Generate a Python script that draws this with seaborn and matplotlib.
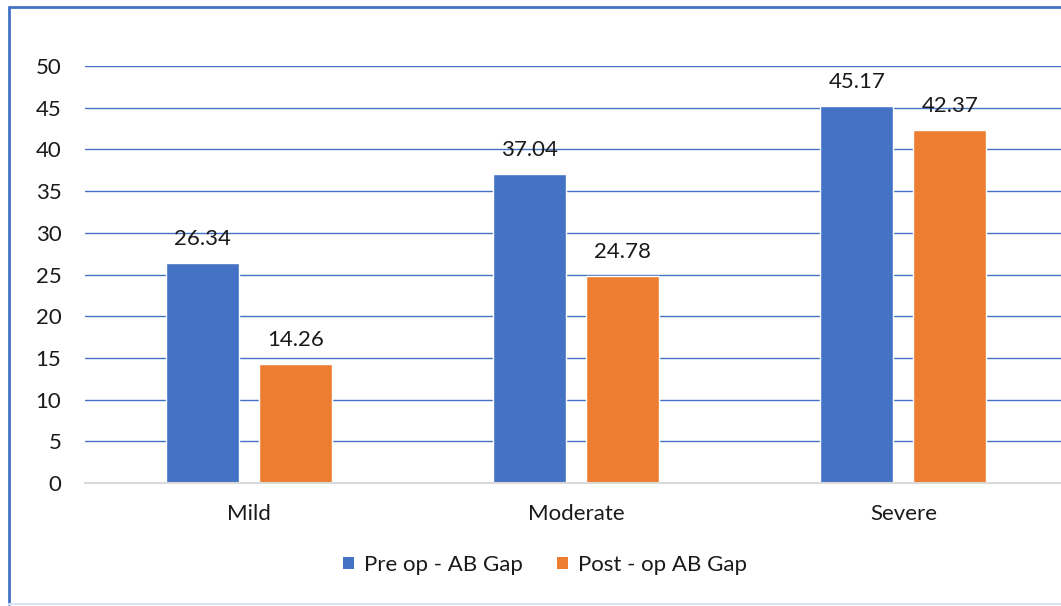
import matplotlib
matplotlib.use("Agg")
import matplotlib.pyplot as plt
from matplotlib.lines import Line2D
from matplotlib.patches import Patch
import pandas as pd
import seaborn as sns

categories = ["Mild", "Moderate", "Severe"]
series_names = ["Pre op - AB Gap", "Post - op AB Gap"]
pre_op = [26.34, 37.04, 45.17]
post_op = [14.26, 24.78, 42.37]
y_ticks = [0, 5, 10, 15, 20, 25, 30, 35, 40, 45, 50]

colors = ["#4472C4", "#ED7D31"]

df = pd.DataFrame({
    "category": categories * 2,
    "series": [series_names[0]] * 3 + [series_names[1]] * 3,
    "value": pre_op + post_op,
})

sns.set_style("white")
plt.rcParams["font.family"] = ["Lato", "DejaVu Sans"]
text_color = "#1a1a1a"
fs = 16

fig = plt.figure(figsize=(10.61, 6.06), dpi=100)
ax = fig.add_axes([85 / 1061, 1 - 483 / 606, 982 / 1061, (483 - 66) / 606])

sns.barplot(data=df, x="category", y="value", hue="series", order=categories,
            hue_order=series_names, palette=colors, width=0.568, gap=0.215,
            saturation=1, legend=False, ax=ax, zorder=3)

ax.set_xlim(-0.5, 2.5)
ax.set_ylim(0, 50)
ax.set_yticks(y_ticks)
ax.set_xlabel("")
ax.set_ylabel("")

ax.grid(axis="y", color="#4472C4", linewidth=1.0, zorder=0)
ax.set_axisbelow(True)
for side in ["top", "right", "left"]:
    ax.spines[side].set_visible(False)
ax.spines["bottom"].set_color("#d9d9d9")
ax.spines["bottom"].set_linewidth(1.5)
ax.spines["bottom"].set_zorder(4)

# category boundary ticks on the x axis
ax.set_xticks([-0.5, 0.5, 1.5, 2.5], minor=True)
ax.tick_params(axis="x", which="minor", length=4, width=1.5, color="#d9d9d9", direction="out")
ax.tick_params(axis="x", which="major", length=0, pad=15, labelsize=fs, labelcolor=text_color)
ax.tick_params(axis="y", length=0, pad=17, labelsize=fs, labelcolor=text_color)

for container in ax.containers:
    ax.bar_label(container, labels=[f"{v:.2f}" for v in container.datavalues],
                 padding=10, fontsize=fs, color=text_color)

handles = [Patch(facecolor=c, edgecolor="none") for c in colors]
fig.legend(handles, series_names, loc="center", bbox_to_anchor=(545 / 1061, 1 - 565 / 606),
           ncol=2, frameon=False, fontsize=fs, handlelength=0.5, handleheight=0.5,
           handletextpad=0.45, columnspacing=1.5, labelcolor=text_color)

# chart frame
fig.add_artist(Line2D([9 / 1061, 9 / 1061], [1 - 604 / 606, 1 - 7 / 606],
                      transform=fig.transFigure, color="#4472C4", linewidth=2))
fig.add_artist(Line2D([9 / 1061, 1.0], [1 - 7 / 606, 1 - 7 / 606],
                      transform=fig.transFigure, color="#4472C4", linewidth=2))
fig.add_artist(Line2D([9 / 1061, 1.0], [1 - 604 / 606, 1 - 604 / 606],
                      transform=fig.transFigure, color="#dae3f3", linewidth=1.5))

fig.savefig("out.png", dpi=100)
